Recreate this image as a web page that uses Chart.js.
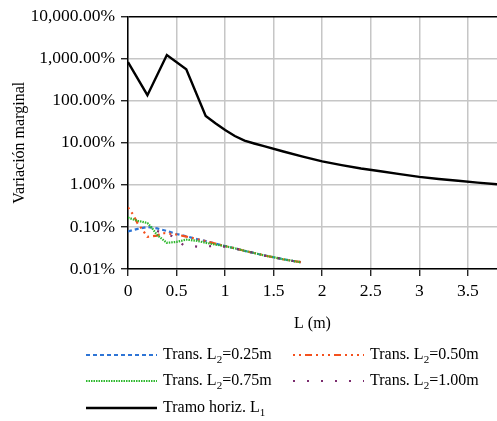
<!DOCTYPE html>
<html>
<head>
<meta charset="utf-8">
<script src="https://cdn.jsdelivr.net/npm/chart.js@4/dist/chart.umd.min.js"></script>
<style>
html,body{margin:0;padding:0;background:#fff;}
#wrap{width:497px;height:421px;position:relative;}
</style>
</head>
<body>
<div id="wrap"><canvas id="c" width="497" height="421"></canvas></div>
<script>
// ---- data (values in %) ----
const lHoriz = [0, 0.2, 0.4, 0.6, 0.8, 0.9, 1.0, 1.1, 1.2, 1.3, 1.4, 1.6, 1.8, 2.0, 2.2, 2.4, 2.6, 2.8, 3.0, 3.2, 3.4, 3.6, 3.8];
const vHoriz = [825, 135, 1220, 560, 43.5, 29, 20, 14.5, 11.2, 9.6, 8.3, 6.2, 4.7, 3.6, 2.95, 2.45, 2.1, 1.8, 1.55, 1.38, 1.25, 1.13, 1.03];

const lT25 = [0, 0.1, 0.2, 0.3, 0.4, 0.5, 0.6, 0.7, 0.8, 0.9, 1.0, 1.1, 1.2, 1.3, 1.4, 1.5, 1.6, 1.7, 1.78];
const vT25 = [0.078, 0.09, 0.1, 0.092, 0.08, 0.068, 0.06, 0.052, 0.046, 0.04, 0.035, 0.031, 0.027, 0.024, 0.021, 0.019, 0.017, 0.0155, 0.0145];

const lT50 = [0, 0.05, 0.1, 0.15, 0.2, 0.25, 0.3, 0.35, 0.4, 0.5, 0.6, 0.7, 0.8, 0.9, 1.0, 1.1, 1.2, 1.3, 1.4, 1.5, 1.6, 1.7, 1.78];
const vT50 = [0.29, 0.2, 0.12, 0.085, 0.058, 0.06, 0.062, 0.072, 0.07, 0.066, 0.059, 0.052, 0.046, 0.04, 0.035, 0.031, 0.027, 0.024, 0.021, 0.019, 0.017, 0.0155, 0.0145];

const lT75 = [0, 0.1, 0.2, 0.25, 0.3, 0.4, 0.5, 0.6, 0.7, 0.8, 0.9, 1.0, 1.1, 1.2, 1.3, 1.4, 1.5, 1.6, 1.7, 1.78];
const vT75 = [0.166, 0.14, 0.124, 0.092, 0.064, 0.042, 0.044, 0.05, 0.047, 0.042, 0.038, 0.035, 0.031, 0.027, 0.024, 0.021, 0.019, 0.017, 0.0155, 0.0145];

const lT100 = [0.3, 0.45, 0.57, 0.72, 0.87, 1.0, 1.1, 1.2, 1.3, 1.4, 1.5, 1.6, 1.7, 1.78];
const vT100 = [0.08, 0.061, 0.037, 0.034, 0.035, 0.034, 0.031, 0.027, 0.024, 0.021, 0.019, 0.017, 0.0155, 0.0145];

const yTicks = [0.01, 0.1, 1, 10, 100, 1000, 10000];
const xTicks = [0, 0.5, 1, 1.5, 2, 2.5, 3, 3.5];

const legendItems = [
  {pre: 'Trans. L', sub: '2', post: '=0.25m', color: '#2e75d6', dash: [4, 3], width: 2},
  {pre: 'Trans. L', sub: '2', post: '=0.50m', color: '#f4511e', dash: [2, 4, 2, 4, 7, 4, 2, 4], width: 2},
  {pre: 'Trans. L', sub: '2', post: '=0.75m', color: '#2db82d', dash: [1.5, 1], width: 2},
  {pre: 'Trans. L', sub: '2', post: '=1.00m', color: '#7b2c6e', dash: [2, 12], width: 2},
  {pre: 'Tramo horiz. L', sub: '1', post: '', color: '#000000', dash: [], width: 2.4}
];

const pts = (xs, ys) => xs.map((x, i) => ({x: x, y: ys[i]}));
const SERIF = '"Liberation Serif", "Times New Roman", serif';

const legendPlugin = {
  id: 'customLegend',
  afterDraw(chart) {
    const ctx = chart.ctx;
    const pos = [
      {x: 86, y: 355}, {x: 293, y: 355},
      {x: 86, y: 381}, {x: 293, y: 381},
      {x: 86, y: 408}
    ];
    legendItems.forEach((it, i) => {
      const p = pos[i];
      ctx.save();
      ctx.strokeStyle = it.color;
      ctx.lineWidth = it.width;
      ctx.setLineDash(it.dash);
      ctx.beginPath();
      ctx.moveTo(p.x, p.y);
      ctx.lineTo(p.x + 71, p.y);
      ctx.stroke();
      ctx.setLineDash([]);
      ctx.fillStyle = '#000';
      ctx.textBaseline = 'middle';
      ctx.font = '16px ' + SERIF;
      let tx = p.x + 77;
      ctx.fillText(it.pre, tx, p.y);
      tx += ctx.measureText(it.pre).width;
      ctx.font = '11px ' + SERIF;
      ctx.fillText(it.sub, tx, p.y + 5);
      tx += ctx.measureText(it.sub).width;
      ctx.font = '16px ' + SERIF;
      ctx.fillText(it.post, tx, p.y);
      ctx.restore();
    });
  }
};

const gridCol = '#c6c6c6';

new Chart(document.getElementById('c'), {
  type: 'line',
  data: {
    datasets: [
      {label: 'Tramo horiz. L1', data: pts(lHoriz, vHoriz), borderColor: '#000', borderWidth: 2.4, pointRadius: 0, tension: 0, order: 0},
      {label: 'Trans. L2=0.25m', data: pts(lT25, vT25), borderColor: '#2e75d6', borderWidth: 2.2, borderDash: [4, 3], pointRadius: 0, tension: 0, order: 4},
      {label: 'Trans. L2=0.50m', data: pts(lT50, vT50), borderColor: '#f4511e', borderWidth: 2.2, borderDash: [2, 4, 2, 4, 7, 4, 2, 4], pointRadius: 0, tension: 0, order: 3},
      {label: 'Trans. L2=0.75m', data: pts(lT75, vT75), borderColor: '#2db82d', borderWidth: 2.2, borderDash: [1.5, 1], pointRadius: 0, tension: 0, order: 2},
      {label: 'Trans. L2=1.00m', data: pts(lT100, vT100), borderColor: '#7b2c6e', borderWidth: 2.2, borderDash: [2, 12], pointRadius: 0, tension: 0, order: 1}
    ]
  },
  options: {
    responsive: false,
    animation: false,
    devicePixelRatio: 1,
    layout: {padding: {top: 14, right: 0, bottom: 86, left: 0}},
    plugins: {legend: {display: false}, tooltip: {enabled: false}},
    scales: {
      x: {
        type: 'linear',
        min: 0, max: 3.8,
        afterFit(s) { s.height = 66; },
        afterBuildTicks(s) { s.ticks = xTicks.map(v => ({value: v})); },
        ticks: {
          color: '#000', font: {family: SERIF, size: 17.5}, padding: 5, maxRotation: 0,
          callback: v => String(v)
        },
        grid: {color: gridCol, lineWidth: 1.5, tickLength: 7, tickColor: '#000', tickWidth: 1.2},
        border: {color: '#000', width: 1.5},
        title: {display: true, text: 'L (m)', color: '#000', font: {family: SERIF, size: 16}, padding: {top: 0, bottom: 2}}
      },
      y: {
        type: 'logarithmic',
        min: 0.01, max: 10000,
        afterFit(s) { s.width = 128; },
        afterBuildTicks(s) { s.ticks = yTicks.map(v => ({value: v})); },
        ticks: {
          color: '#000', font: {family: SERIF, size: 17.5}, padding: 6,
          callback: v => Number(v).toLocaleString('en-US', {minimumFractionDigits: 2, maximumFractionDigits: 2}) + '%'
        },
        grid: {
          color: c => (c.tick && c.tick.value === 10000) ? '#000' : gridCol,
          lineWidth: 1.5,
          tickLength: 7, tickColor: '#000', tickWidth: 1.2
        },
        border: {color: '#000', width: 1.5},
        title: {display: true, text: 'Variación marginal', color: '#000', font: {family: SERIF, size: 16}, padding: {top: 10, bottom: 0}}
      }
    }
  },
  plugins: [legendPlugin]
});
</script>
</body>
</html>
